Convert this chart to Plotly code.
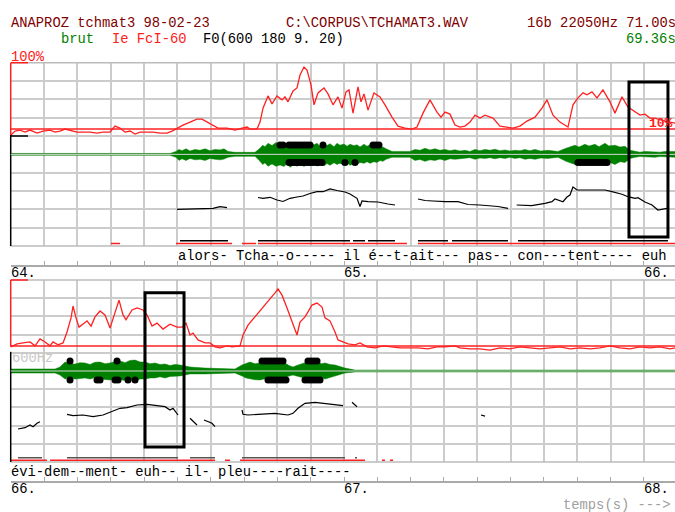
import plotly.graph_objects as go

# ---- panel 1 : 64.0 - 66.0 s ----------------------------------------------
E1_T = [64.001, 64.013, 64.028, 64.043, 64.058, 64.079, 64.097, 64.118, 64.133, 64.148,
        64.163, 64.178, 64.199, 64.217, 64.238, 64.259, 64.277, 64.298, 64.313, 64.328,
        64.343, 64.358, 64.373, 64.388, 64.409, 64.427, 64.448, 64.469, 64.484, 64.499,
        64.517, 64.538, 64.559, 64.574, 64.589, 64.607, 64.622, 64.649, 64.658, 64.673,
        64.694, 64.709, 64.718, 64.739, 64.748, 64.757, 64.772, 64.784, 64.799, 64.814,
        64.823, 64.832, 64.847, 64.859, 64.868, 64.880, 64.889, 64.901, 64.910, 64.922,
        64.940, 64.952, 64.967, 64.982, 64.994, 65.006, 65.015, 65.027, 65.042, 65.051,
        65.060, 65.072, 65.090, 65.108, 65.123, 65.144, 65.162, 65.183, 65.204, 65.219,
        65.237, 65.258, 65.279, 65.291, 65.303, 65.318, 65.333, 65.348, 65.363, 65.378,
        65.393, 65.408, 65.423, 65.447, 65.468, 65.492, 65.507, 65.528, 65.549, 65.573,
        65.594, 65.609, 65.627, 65.648, 65.672, 65.687, 65.702, 65.717, 65.729, 65.744,
        65.759, 65.777, 65.798, 65.813, 65.834, 65.852, 65.873, 65.888, 65.903, 65.918,
        65.933, 65.963, 65.993]
E1_DB = [-21.8, -20.6, -20.3, -20.9, -20.3, -21.2, -20.6, -20.3, -20.9, -20.6,
         -20.0, -20.3, -20.9, -20.9, -20.9, -21.2, -20.9, -20.9, -19.1, -19.7,
         -20.9, -20.6, -21.5, -20.9, -20.9, -20.9, -21.2, -21.2, -20.6, -19.7,
         -18.8, -17.9, -17.0, -17.0, -17.9, -18.8, -19.7, -19.7, -20.0, -20.3,
         -19.7, -19.4, -20.0, -20.0, -17.9, -13.7, -10.0, -12.4, -10.0, -11.2,
         -10.3, -11.8, -8.5, -7.6, -3.7, -1.3, -2.2, -6.7, -12.7, -9.1,
         -7.6, -9.4, -12.7, -10.3, -13.7, -8.8, -8.2, -15.2, -7.3, -11.8,
         -9.4, -14.3, -9.1, -10.3, -12.7, -16.4, -19.1, -19.7, -20.0, -19.4,
         -15.2, -11.2, -14.9, -16.4, -14.9, -15.5, -18.8, -19.4, -19.1, -17.9,
         -15.8, -16.7, -15.8, -16.7, -19.1, -19.4, -19.7, -19.1, -17.6, -16.4,
         -13.7, -11.2, -15.8, -17.9, -19.4, -12.7, -10.6, -9.1, -9.7, -8.8,
         -10.6, -8.2, -11.8, -15.2, -10.3, -13.4, -14.9, -15.8, -15.5, -16.7,
         -16.7, -17.6, -18.2]

W1_T = [64.001, 64.478, 64.496, 64.505, 64.514, 64.526, 64.538, 64.553, 64.568, 64.583,
        64.598, 64.613, 64.628, 64.640, 64.652, 64.673, 64.733, 64.748, 64.756, 64.763,
        64.772, 64.784, 64.796, 64.808, 64.820, 64.829, 64.838, 64.850, 64.859, 64.868,
        64.880, 64.889, 64.898, 64.910, 64.919, 64.928, 64.940, 64.949, 64.958, 64.970,
        64.979, 64.988, 65.000, 65.009, 65.018, 65.030, 65.039, 65.048, 65.060, 65.069,
        65.078, 65.090, 65.099, 65.108, 65.117, 65.126, 65.144, 65.198, 65.213, 65.228,
        65.243, 65.258, 65.273, 65.288, 65.303, 65.318, 65.333, 65.348, 65.363, 65.378,
        65.393, 65.408, 65.423, 65.438, 65.453, 65.468, 65.483, 65.498, 65.513, 65.528,
        65.543, 65.558, 65.573, 65.590, 65.612, 65.642, 65.666, 65.678, 65.693, 65.705,
        65.723, 65.735, 65.753, 65.765, 65.783, 65.795, 65.813, 65.828, 65.843, 65.858,
        65.873, 65.888, 65.903, 65.918, 65.933, 65.948, 65.963, 65.978, 65.993]
W1_UP = [0.05, 0.05, 0.16, 0.27, 0.20, 0.30, 0.18, 0.27, 0.22, 0.30,
         0.20, 0.27, 0.24, 0.30, 0.16, 0.11, 0.11, 0.33, 0.50, 0.42,
         0.60, 0.48, 0.65, 0.52, 0.62, 0.45, 0.60, 0.50, 0.66, 0.55,
         0.65, 0.48, 0.63, 0.52, 0.60, 0.44, 0.56, 0.48, 0.58, 0.42,
         0.60, 0.50, 0.56, 0.44, 0.55, 0.47, 0.52, 0.40, 0.55, 0.44,
         0.52, 0.38, 0.46, 0.36, 0.40, 0.30, 0.16, 0.16, 0.27, 0.22,
         0.33, 0.24, 0.30, 0.22, 0.27, 0.20, 0.25, 0.18, 0.22, 0.16,
         0.27, 0.20, 0.27, 0.22, 0.28, 0.20, 0.24, 0.18, 0.22, 0.20,
         0.26, 0.20, 0.27, 0.18, 0.22, 0.16, 0.33, 0.42, 0.50, 0.40,
         0.55, 0.45, 0.55, 0.42, 0.60, 0.46, 0.50, 0.40, 0.44, 0.22,
         0.16, 0.12, 0.16, 0.14, 0.16, 0.12, 0.16, 0.14, 0.16]
W1_DN = [0.05, 0.05, 0.16, 0.33, 0.24, 0.33, 0.22, 0.30, 0.27, 0.33,
         0.22, 0.27, 0.30, 0.26, 0.16, 0.11, 0.11, 0.38, 0.55, 0.46,
         0.65, 0.52, 0.65, 0.58, 0.66, 0.50, 0.71, 0.56, 0.65, 0.52,
         0.66, 0.55, 0.60, 0.48, 0.65, 0.52, 0.62, 0.50, 0.60, 0.46,
         0.55, 0.48, 0.60, 0.46, 0.60, 0.50, 0.55, 0.44, 0.49, 0.40,
         0.49, 0.40, 0.44, 0.34, 0.38, 0.27, 0.16, 0.16, 0.33, 0.28,
         0.38, 0.30, 0.33, 0.26, 0.33, 0.24, 0.27, 0.22, 0.22, 0.18,
         0.27, 0.20, 0.22, 0.18, 0.24, 0.18, 0.22, 0.16, 0.22, 0.18,
         0.27, 0.22, 0.27, 0.20, 0.22, 0.16, 0.38, 0.46, 0.55, 0.44,
         0.49, 0.40, 0.55, 0.46, 0.49, 0.42, 0.55, 0.40, 0.44, 0.22,
         0.16, 0.12, 0.16, 0.14, 0.16, 0.12, 0.16, 0.14, 0.16]

F1_T = [64.499, 64.538, 64.568, 64.607, 64.628, 64.649, None,
        64.742, 64.757, 64.778, 64.799, 64.817, 64.838, 64.859, 64.877, 64.898, 64.919,
        64.937, 64.958, 64.979, 65.003, 65.018, 65.039, 65.048, 65.054, 65.072, 65.102,
        65.132, 65.153, None,
        65.222, 65.243, 65.267, 65.303, 65.342, 65.372, 65.408, 65.438, 65.462, 65.492, None,
        65.518, 65.563, 65.603, 65.624, 65.633, 65.657, 65.669, 65.678, 65.687, 65.699,
        65.723, 65.753, 65.783, 65.804, 65.834, 65.852, 65.873, 65.882, 65.903, 65.924,
        65.942, 65.969, 65.972]
F1_HZ = [199.6, 201.9, 201.9, 205.7, 214.4, 209.0, None,
         264.6, 260.3, 265.7, 251.0, 242.8, 260.3, 267.3, 272.8, 286.4, 296.3,
         296.3, 311.0, 302.8, 294.6, 283.7, 260.3, 215.5, 245.5, 241.7, 240.0,
         229.2, 223.7, None,
         256.4, 248.2, 245.5, 241.7, 241.7, 226.4, 223.7, 221.0, 215.5, 205.7, None,
         223.7, 219.9, 233.0, 241.7, 256.4, 241.7, 267.3, 278.3, 321.9, 305.5,
         305.5, 305.5, 305.5, 296.3, 282.1, 269.0, 260.3, 263.5, 240.0, 223.7,
         196.4, 205.7, 204.6]

DOT1_UP = [64.808, 64.817, 64.835, 64.844, 64.853, 64.862, 64.871, 64.880, 64.889, 64.898,
           64.937, 65.087, 65.096, 65.105]
DOT1_DN = [64.835, 64.844, 64.853, 64.862, 64.871, 64.880, 64.889, 64.898, 64.907, 64.916,
           64.925, 64.934, 65.003, 65.033, 65.702, 65.711, 65.720, 65.729, 65.738, 65.747,
           65.756, 65.765, 65.774, 65.783, 65.789]

VOICE1_START = [64.508, 64.742, 65.027, 65.072, 65.222, 65.324, 65.522]
VOICE1_END = [64.652, 65.018, 65.063, 65.153, 65.312, 65.492, 65.972]
SEG1_START = [64.301, 64.496, 64.694, 64.742, 65.222]
SEG1_END = [64.328, 64.664, 64.736, 65.189, 65.993]

# ---- panel 2 : 66.0 - 68.0 s ----------------------------------------------
E2_T = [66.001, 66.019, 66.037, 66.058, 66.073, 66.088, 66.103, 66.118, 66.127, 66.142,
        66.157, 66.169, 66.181, 66.187, 66.196, 66.205, 66.220, 66.229, 66.241, 66.253,
        66.268, 66.283, 66.298, 66.310, 66.325, 66.337, 66.346, 66.364, 66.379, 66.397,
        66.409, 66.424, 66.439, 66.457, 66.478, 66.499, 66.514, 66.526, 66.538, 66.547,
        66.562, 66.583, 66.598, 66.613, 66.628, 66.649, 66.664, 66.688, 66.697, 66.712,
        66.733, 66.754, 66.772, 66.793, 66.802, 66.814, 66.829, 66.844, 66.859, 66.868,
        66.883, 66.892, 66.904, 66.919, 66.934, 66.943, 66.958, 66.973, 66.982, 66.997,
        67.012, 67.033, 67.048, 67.069, 67.093, 67.117, 67.144, 67.168, 67.192, 67.222,
        67.252, 67.279, 67.303, 67.333, 67.348, 67.378, 67.408, 67.438, 67.468, 67.498,
        67.528, 67.558, 67.588, 67.618, 67.648, 67.678, 67.708, 67.738, 67.768, 67.798,
        67.828, 67.858, 67.888, 67.918, 67.948, 67.978, 67.993]
E2_DB = [-20.3, -19.4, -19.1, -18.8, -20.0, -17.9, -18.8, -20.0, -18.8, -19.7,
         -19.1, -15.8, -11.5, -7.9, -11.5, -14.3, -13.1, -12.4, -14.0, -11.2,
         -9.4, -10.6, -14.6, -10.6, -6.1, -10.6, -12.1, -9.1, -8.5, -9.1,
         -10.6, -14.0, -13.1, -14.9, -13.4, -14.3, -14.3, -13.1, -16.7, -16.1,
         -18.2, -19.1, -19.1, -20.3, -20.6, -20.0, -20.3, -20.0, -16.7, -13.7,
         -11.2, -8.5, -6.7, -3.9, -2.7, -4.6, -8.5, -12.8, -16.7, -12.8,
         -11.2, -9.7, -7.6, -7.0, -8.2, -11.5, -12.4, -15.8, -18.2, -18.8,
         -19.4, -19.7, -19.1, -20.3, -20.6, -20.0, -20.3, -20.6, -20.6, -20.6,
         -20.9, -20.3, -20.3, -20.0, -20.6, -20.9, -20.9, -21.3, -20.6, -20.9,
         -20.3, -20.6, -20.9, -20.6, -20.3, -20.9, -20.6, -20.9, -20.6, -20.0,
         -20.6, -20.9, -20.3, -20.6, -20.3, -20.9, -20.6]

W2_T = [66.001, 66.133, 66.148, 66.163, 66.178, 66.193, 66.208, 66.223, 66.238, 66.253,
        66.268, 66.283, 66.298, 66.313, 66.328, 66.343, 66.358, 66.373, 66.388, 66.403,
        66.418, 66.433, 66.448, 66.463, 66.478, 66.493, 66.508, 66.538, 66.583, 66.673,
        66.694, 66.706, 66.718, 66.733, 66.748, 66.763, 66.778, 66.793, 66.808, 66.823,
        66.835, 66.847, 66.858, 66.868, 66.883, 66.898, 66.910, 66.922, 66.933, 66.943,
        66.958, 66.973, 67.003, 67.033, 67.993]
W2_UP = [0.11, 0.11, 0.22, 0.49, 0.40, 0.38, 0.46, 0.44, 0.36, 0.48,
         0.49, 0.40, 0.44, 0.52, 0.55, 0.46, 0.58, 0.60, 0.50, 0.49,
         0.40, 0.44, 0.36, 0.38, 0.30, 0.36, 0.33, 0.22, 0.16, 0.11,
         0.33, 0.42, 0.49, 0.40, 0.44, 0.50, 0.49, 0.40, 0.48, 0.44,
         0.30, 0.22, 0.30, 0.38, 0.46, 0.55, 0.44, 0.49, 0.40, 0.44,
         0.36, 0.33, 0.16, 0.05, 0.05]
W2_DN = [0.11, 0.11, 0.22, 0.44, 0.36, 0.44, 0.40, 0.38, 0.44, 0.36,
         0.44, 0.46, 0.49, 0.42, 0.49, 0.52, 0.46, 0.55, 0.44, 0.44,
         0.38, 0.38, 0.32, 0.38, 0.30, 0.30, 0.27, 0.16, 0.16, 0.11,
         0.27, 0.38, 0.44, 0.48, 0.49, 0.42, 0.49, 0.44, 0.40, 0.38,
         0.28, 0.22, 0.26, 0.33, 0.40, 0.49, 0.42, 0.44, 0.38, 0.44,
         0.32, 0.27, 0.11, 0.05, 0.05]

F2_T = [66.022, 66.043, 66.058, 66.067, 66.079, 66.088, None,
        66.169, 66.187, 66.217, 66.247, 66.277, 66.307, 66.328, 66.349, 66.379, 66.409,
        66.439, 66.463, 66.478, 66.487, 66.502, None,
        66.538, 66.547, 66.559, None,
        66.580, 66.592, 66.604, 66.613, None,
        66.694, 66.697, 66.712, 66.742, 66.793, 66.832, 66.847, 66.862, 66.883, 66.913,
        66.943, 66.973, 66.997, None,
        67.024, 67.039, None,
        67.411, 67.423]
F2_HZ = [181.3, 188.5, 203.3, 194.0, 212.7, 221.5, None,
         262.1, 254.4, 258.3, 248.9, 258.3, 280.2, 295.1, 298.4, 313.2, 317.1,
         309.4, 303.9, 285.7, 295.1, 258.3, None,
         240.1, 225.3, 203.3, None,
         230.8, 221.5, 212.7, 194.0, None,
         285.7, 262.1, 258.3, 262.1, 267.6, 258.3, 267.6, 295.1, 322.6, 328.0,
         322.6, 317.1, 309.4, None,
         328.0, 303.9, None,
         258.0, 252.0]

DOT2_UP = [66.178, 66.319, 66.754, 66.763, 66.772, 66.781, 66.790, 66.799, 66.808, 66.817,
           66.892, 66.901, 66.910, 66.919]
DOT2_DN = [66.178, 66.259, 66.268, 66.313, 66.322, 66.352, 66.373, 66.772, 66.781, 66.790,
           66.799, 66.808, 66.817, 66.826, 66.883, 66.892, 66.901, 66.910, 66.919, 66.928]

VOICE2_START = [66.022, 66.169, 66.538, 66.694, 67.033]
VOICE2_END = [66.094, 66.502, 66.613, 67.003, 67.039]
SEG2_START = [66.001, 66.118, 66.643, 66.688, 67.114, 67.138]
SEG2_END = [66.109, 66.613, 66.658, 67.063, 67.123, 67.147]

# selection boxes: t0, t1, dB top, dB bottom
BOX1 = [65.855, 65.972, -5.8, -52.5]
BOX2 = [66.403, 66.520, -3.9, -50.7]

SYLL1 = "alors- Tcha--o----- il é--t-ait--- pas-- con---tent---- euh"
SYLL2 = "évi-dem--ment- euh-- il- pleu----rait----"

W, H = 675, 512
X0 = 10.7 / W
MONO = "Liberation Mono, DejaVu Sans Mono, monospace"
GRID = "#cccccc"
RED = "#ff2020"


def bars(starts, ends, level):
    xs, ys = [], []
    for a, b in zip(starts, ends):
        xs += [a, b, None]
        ys += [level, level, None]
    return xs, ys


def panel(fig, xa, ye, yw, yf, et, edb, wt, wup, wdn, ft, fhz, dup, ddn,
          vs, ve, ss, se, vlev, slev, vcol, up_amp, dn_amp):
    fig.add_trace(go.Scatter(
        x=wt + wt[::-1], y=wup + [-v for v in wdn][::-1], fill="toself",
        fillcolor="#008000", line=dict(color="#008000", width=0.5),
        mode="lines", xaxis=xa, yaxis=yw))
    fig.add_trace(go.Scatter(
        x=dup, y=[up_amp] * len(dup), mode="markers",
        marker=dict(color="black", size=7), xaxis=xa, yaxis=yw))
    fig.add_trace(go.Scatter(
        x=ddn, y=[dn_amp] * len(ddn), mode="markers",
        marker=dict(color="black", size=7), xaxis=xa, yaxis=yw))
    bx, by = bars(ss, se, slev)
    fig.add_trace(go.Scatter(x=bx, y=by, mode="lines",
                             line=dict(color=RED, width=1.5), xaxis=xa, yaxis=yf))
    bx, by = bars(vs, ve, vlev)
    fig.add_trace(go.Scatter(x=bx, y=by, mode="lines",
                             line=dict(color=vcol, width=1.5), xaxis=xa, yaxis=yf))
    fig.add_trace(go.Scatter(x=ft, y=fhz, mode="lines", connectgaps=False,
                             line=dict(color="black", width=1.2), xaxis=xa, yaxis=yf))
    fig.add_trace(go.Scatter(x=et, y=edb, mode="lines",
                             line=dict(color=RED, width=1.3), xaxis=xa, yaxis=ye))


fig = go.Figure()
panel(fig, "x", "y", "y2", "y3", E1_T, E1_DB, W1_T, W1_UP, W1_DN, F1_T, F1_HZ,
      DOT1_UP, DOT1_DN, VOICE1_START, VOICE1_END, SEG1_START, SEG1_END, 29, 14,
      "black", 0.51, -0.45)
panel(fig, "x2", "y4", "y5", "y6", E2_T, E2_DB, W2_T, W2_UP, W2_DN, F2_T, F2_HZ,
      DOT2_UP, DOT2_DN, VOICE2_START, VOICE2_END, SEG2_START, SEG2_END, 24, 10,
      "#555555", 0.55, -0.5)

span = (W - 10.7) / 333.3
xcommon = dict(domain=[X0, 1], anchor="free", showgrid=True, gridcolor=GRID,
               gridwidth=1.5, dtick=0.1, ticks="inside", ticklen=4,
               tickcolor="#aaaaaa", showline=True, linecolor="#aaaaaa",
               linewidth=1.5, showticklabels=False, zeroline=False)
ycommon = dict(range=[-55.25, 0], showgrid=True, gridcolor=GRID, gridwidth=1.5,
               tick0=0, dtick=5.525, showticklabels=False, zeroline=False,
               showline=False)
hidden = dict(visible=False, showgrid=False, zeroline=False)

top_dom = [1 - 246 / H, 1 - 62.7 / H]
bot_dom = [1 - 462 / H, 1 - 280 / H]

fig.update_layout(
    xaxis=dict(xcommon, range=[64, 64 + span], tick0=64, position=1 - 266 / H),
    xaxis2=dict(xcommon, range=[66, 66 + span], tick0=66, position=1 - 482 / H),
    yaxis=dict(ycommon, domain=top_dom, anchor="x"),
    yaxis2=dict(hidden, overlaying="y", anchor="x", range=[-5, 5]),
    yaxis3=dict(hidden, overlaying="y", anchor="x", range=[0, 1000]),
    yaxis4=dict(ycommon, domain=bot_dom, anchor="x2"),
    yaxis5=dict(hidden, overlaying="y4", anchor="x2", range=[-5, 5]),
    yaxis6=dict(hidden, overlaying="y4", anchor="x2", range=[0, 1000]),
)

shapes = []
for xa, ye, yw, red_to in (("x", "y", "y2", -21.8), ("x2", "y4", "y5", -20.3)):
    xd = xa + " domain"
    yd = ye + " domain"
    # frame
    shapes.append(dict(type="line", xref=xd, yref=yd, x0=0, x1=1, y0=1, y1=1,
                       line=dict(color="#bbbbbb", width=1.5)))
    shapes.append(dict(type="line", xref=xd, yref=yd, x0=0, x1=1, y0=0, y1=0,
                       line=dict(color="#bbbbbb", width=1.5)))
    shapes.append(dict(type="line", xref=xd, yref=yd, x0=0, x1=0.026, y0=1, y1=1,
                       line=dict(color=RED, width=1.5)))
    shapes.append(dict(type="line", xref=xd, yref=ye, x0=0, x1=0, y0=0, y1=red_to,
                       line=dict(color=RED, width=1.5)))
    shapes.append(dict(type="line", xref=xd, yref=ye, x0=0, x1=0, y0=-21.8, y1=-55.25,
                       line=dict(color="black", width=1.5)))
    # 10 % reference
    shapes.append(dict(type="line", xref=xd, yref=ye, x0=0, x1=1, y0=-20, y1=-20,
                       line=dict(color=RED, width=1.5)))
    # waveform zero line
    shapes.append(dict(type="line", xref=xd, yref=yw, x0=0, x1=1, y0=0, y1=0,
                       layer="above", line=dict(color="#d8d8d8", width=1)))
shapes.append(dict(type="line", xref="x domain", yref="y", x0=0, x1=0.026,
                   y0=-22.1, y1=-22.1, line=dict(color="black", width=1.5)))
for xa, ye, b in (("x", "y", BOX1), ("x2", "y4", BOX2)):
    shapes.append(dict(type="rect", xref=xa, yref=ye, x0=b[0], x1=b[1], y0=b[2], y1=b[3],
                       line=dict(color="black", width=3)))
fig.update_layout(shapes=shapes)


def label(text, x, y, color, size=13.8, bold=False):
    return dict(text=f"<b>{text}</b>" if bold else text, x=(x - 1) / W, y=1 - y / H,
                xref="paper", yref="paper", xanchor="left", yanchor="middle",
                showarrow=False, font=dict(family=MONO, size=size, color=color))


ann = [
    label("ANAPROZ tchmat3 98-02-23", 10, 23, "#800000"),
    label("C:\\CORPUS\\TCHAMAT3.WAV", 285, 23, "#800000"),
    label("16b 22050Hz 71.00s", 526, 23, "#800000"),
    label("brut", 60, 39, "#008000"),
    label("Ie FcI-60", 111, 39, RED),
    label("F0(600 180 9. 20)", 202, 39, "black"),
    label("69.36s", 625, 39, "#008000"),
    label("100%", 10, 57, RED),
    label("10%", 648, 123, RED, size=13, bold=True),
    label(SYLL1, 177, 256, "black"),
    label("64.", 10, 273, "black"),
    label("65.", 343, 273, "black"),
    label("66.", 643, 273, "black"),
    label("600Hz", 11, 358, "#c8c8c8"),
    label(SYLL2, 10, 472, "black"),
    label("66.", 10, 489, "black"),
    label("67.", 343, 489, "black"),
    label("68.", 643, 489, "black"),
    label("temps(s) --->", 562, 505, "#a0a0a0"),
]

fig.update_layout(
    annotations=ann,
    width=W, height=H,
    margin=dict(l=0, r=0, t=0, b=0),
    paper_bgcolor="white", plot_bgcolor="white",
    showlegend=False,
)
fig.write_html("out.html", config={"displayModeBar": False},
               post_script="document.body.style.margin='0';")
